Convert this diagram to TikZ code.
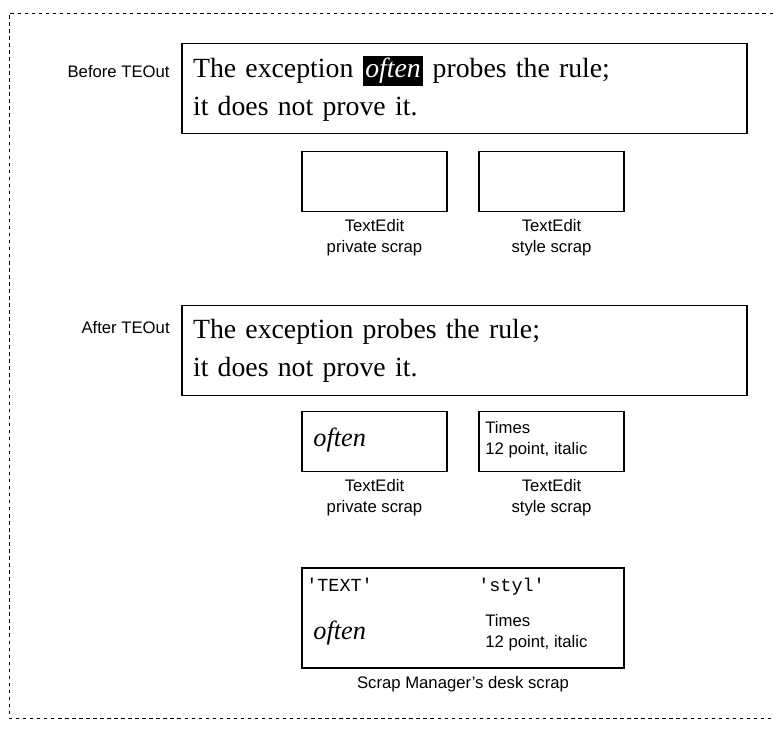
\documentclass[tikz,border=0pt]{standalone}
\usepackage{fontspec}
\setmainfont{Liberation Serif}
\setsansfont{Liberation Sans}
\setmonofont{Liberation Mono}
\usetikzlibrary{positioning}
\tikzset{
  linebox/.style={draw,line width=1pt,minimum width=11.3cm,minimum height=1.8cm,
    text width=10.86cm,inner xsep=0.22cm,align=left,
    font=\fontsize{15.8}{21.5}\selectfont},
  scrapbox/.style={draw,line width=1pt,minimum width=2.9cm,minimum height=1.2cm,inner sep=0pt},
  caption/.style={font=\sffamily\fontsize{9.5}{11.5}\selectfont,align=center,inner sep=1pt},
  sidelabel/.style={font=\sffamily\fontsize{9.5}{11.5}\selectfont,anchor=east,inner sep=0pt},
  stylenote/.style={font=\sffamily\fontsize{9.5}{12}\selectfont,align=left,anchor=west,inner sep=0pt},
  scraptext/.style={font=\fontsize{15}{18}\selectfont\itshape,anchor=west,inner sep=0pt},
  restype/.style={font=\ttfamily\fontsize{10.5}{12}\selectfont,anchor=base west,inner sep=0pt}
}
\setlength{\fboxsep}{1.5pt}
\begin{document}
\begin{tikzpicture}[x=0.02cm,y=-0.02cm]
\useasboundingbox (0,0) rectangle (773,733);
% frame
\draw[dash pattern=on 2pt off 2pt] (773,13) -- (9,13) -- (9,718) -- (773,718);

% before TEOut
\node[linebox] (before) at (464.5,88.5)
  {The exception \colorbox{black}{\color{white}\itshape often} probes the rule;\\it does not prove it.};
\node[sidelabel] (beforelbl) at (170,72) {Before TEOut};
\node[scrapbox] (privA) at (374.5,181.5) {};
\node[scrapbox] (stylA) at (551.5,181.5) {};
\node[caption,below=3pt of privA] {TextEdit\\private scrap};
\node[caption,below=3pt of stylA] {TextEdit\\style scrap};

% after TEOut
\node[linebox] (after) at (464.5,350.5)
  {The exception probes the rule;\\it does not prove it.};
\node[sidelabel] (afterlbl) at (170,328) {After TEOut};
\node[scrapbox] (privB) at (374.5,441.5) {};
\node[scrapbox] (stylB) at (551.5,441.5) {};
\node[scraptext] at (313,440) {often};
\node[stylenote] at (485,440) {Times\\12 point, italic};
\node[caption,below=3pt of privB] {TextEdit\\private scrap};
\node[caption,below=3pt of stylB] {TextEdit\\style scrap};

% desk scrap
\node[draw,line width=1pt,minimum width=6.44cm,minimum height=2cm] (desk) at (463,618) {};
\node[restype] at (306,591) {'TEXT'};
\node[restype] at (478,591) {'styl'};
\node[scraptext] at (313,633) {often};
\node[stylenote] at (485,633) {Times\\12 point, italic};
\node[caption,below=3pt of desk] {Scrap Manager's desk scrap};
\end{tikzpicture}
\end{document}
